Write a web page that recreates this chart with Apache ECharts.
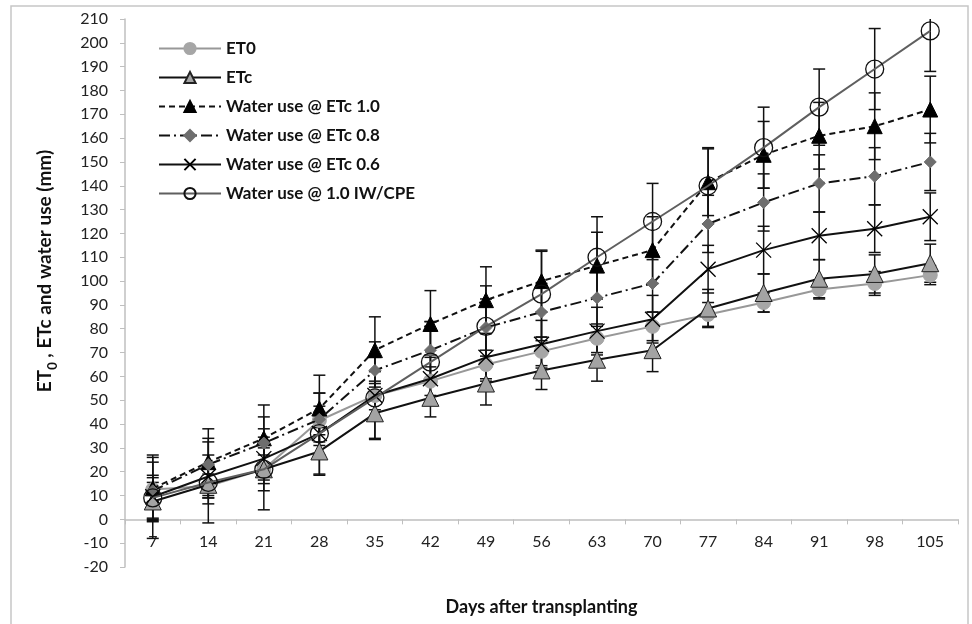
<!DOCTYPE html>
<html>
<head>
<meta charset="utf-8">
<script src="https://cdn.jsdelivr.net/npm/echarts@6/dist/echarts.min.js"></script>
<style>html,body{margin:0;padding:0;background:#fff;}#c{width:972px;height:624px;}</style>
</head>
<body>
<div id="c"></div>
<script>
const days = ['7','14','21','28','35','42','49','56','63','70','77','84','91','98','105'];
const et0      = [12.5, 14, 21, 41.5, 52, 58, 65, 70.5, 76, 81, 86, 91, 96.5, 99, 102.5];
const etc      = [7.5, 14.5, 21, 28.5, 44.5, 51, 57, 62.5, 67, 71, 88.5, 95, 101, 103, 107.5];
const wu10     = [13, 24, 34, 46.5, 71, 82, 92, 100, 106.5, 113, 141.5, 153, 161, 165, 172];
const wu08     = [12, 23, 32, 42, 62.5, 71, 80.5, 87, 93, 99, 124, 133, 141, 144, 150];
const wu06     = [9.5, 18, 25.5, 36, 52, 59, 68, 73.5, 79, 84, 105, 113, 119, 122, 127];
const wuIW     = [9, 15.5, 21, 36, 51, 66, 81, 94.5, 110, 125, 140, 156, 173, 189, 205];
const et0Err   = [5, 5, 6, 6, 6, 6, 6, 6, 6, 6, 5, 4, 4, 5, 4];
const etcErr   = [8, 8, 9, 10, 11, 8, 9, 8, 9, 9, 8, 8, 8, 8, 8];
const wu10Err  = [14, 14, 14, 14, 14, 14, 14, 13, 14, 14, 14, 14, 14, 14, 14];
const wu08Err  = [12, 11, 11, 11, 12, 12, 12, 12, 12, 12, 12, 12, 12, 12, 12];
const wu06Err  = [9, 9, 9, 9, 10, 10, 10, 10, 10, 10, 10, 10, 10, 10, 10];
const wuIWErr  = [17, 17, 17, 17, 17, 17, 17, 18, 17, 16, 16, 17, 16, 17, 17];
const yTicks = {min: -20, max: 210, interval: 10};

const FONT = 'Lato';
const GRID = {left: 125, right: 14, top: 19, bottom: 57};
const H = 624;
const plotH = H - GRID.top - GRID.bottom;
// pixel distance from plot bottom (value = min) up to value 0
const zeroOffset = plotH * (0 - yTicks.min) / (yTicks.max - yTicks.min);

const chart = echarts.init(document.getElementById('c'));

function errData(vals, errs) {
  return vals.map((v, i) => [i, v - errs[i], v + errs[i]]);
}
function errSeries(vals, errs) {
  return {
    type: 'custom',
    data: errData(vals, errs),
    z: 1,
    clip: true,
    silent: true,
    renderItem: function (params, api) {
      const i = api.value(0);
      const lo = Math.max(api.value(1), yTicks.min);
      const hi = Math.min(api.value(2), yTicks.max);
      const p1 = api.coord([i, lo]);
      const p2 = api.coord([i, hi]);
      const w = 6;
      const st = {stroke: '#111', lineWidth: 1.5};
      const children = [{type: 'line', shape: {x1: p1[0], y1: p1[1], x2: p2[0], y2: p2[1]}, style: st}];
      if (api.value(1) >= yTicks.min) children.push({type: 'line', shape: {x1: p1[0]-w, y1: p1[1], x2: p1[0]+w, y2: p1[1]}, style: st});
      if (api.value(2) <= yTicks.max) children.push({type: 'line', shape: {x1: p2[0]-w, y1: p2[1], x2: p2[0]+w, y2: p2[1]}, style: st});
      return {type: 'group', children: children};
    }
  };
}

const names = ['ET0', 'ETc', 'Water use @ ETc 1.0', 'Water use @ ETc 0.8', 'Water use @ ETc 0.6', 'Water use @ 1.0 IW/CPE'];

const option = {
  animation: false,
  backgroundColor: '#fff',
  grid: {left: GRID.left, right: GRID.right, top: GRID.top, bottom: GRID.bottom, containLabel: false, outerBoundsMode: 'none'},
  legend: {
    data: names,
    orient: 'vertical',
    left: 153, top: 35,
    itemWidth: 62, itemHeight: 14, itemGap: 12,
    textStyle: {fontFamily: FONT, fontWeight: 'bold', fontSize: 17, color: '#111'}
  },
  xAxis: {
    type: 'category',
    data: days,
    boundaryGap: true,
    offset: -zeroOffset,
    axisLine: {onZero: false, lineStyle: {color: '#bfbfbf', width: 1.5}},
    axisTick: {show: true, length: 5, alignWithLabel: false, lineStyle: {color: '#bfbfbf'}},
    axisLabel: {fontFamily: FONT, fontSize: 16, color: '#222', margin: 14},
    splitLine: {show: false},
    name: 'Days after transplanting',
    nameLocation: 'middle',
    nameGap: 79,
    nameTextStyle: {fontFamily: FONT, fontWeight: 'bold', fontSize: 18, color: '#111'}
  },
  yAxis: {
    type: 'value',
    min: yTicks.min, max: yTicks.max, interval: yTicks.interval,
    axisLine: {show: true, lineStyle: {color: '#bfbfbf', width: 1.5}},
    axisTick: {show: true, length: 5, lineStyle: {color: '#bfbfbf'}},
    axisLabel: {fontFamily: FONT, fontSize: 16, color: '#222', margin: 17},
    splitLine: {show: false}
  },
  graphic: [{
    type: 'rect', silent: true, z: -1,
    shape: {x: 11, y: 6, width: 957, height: 640},
    style: {fill: 'none', stroke: '#c6c6c6', lineWidth: 1.5}
  }, {
    type: 'text', silent: true,
    x: 42, y: 271, rotation: Math.PI / 2,
    style: {
      text: '{a|ET}{b|0}{a| , ETc and water use (mm)}',
      x: 0, y: 0, align: 'center', verticalAlign: 'middle',
      rich: {
        a: {fontFamily: FONT, fontWeight: 'bold', fontSize: 19, fill: '#111', lineHeight: 24, verticalAlign: 'bottom'},
        b: {fontFamily: FONT, fontWeight: 'bold', fontSize: 13, fill: '#111', lineHeight: 24, verticalAlign: 'bottom', padding: [0, 0, -5, 0]}
      }
    }
  }],
  series: [
    errSeries(et0, et0Err), errSeries(etc, etcErr), errSeries(wu10, wu10Err),
    errSeries(wu08, wu08Err), errSeries(wu06, wu06Err), errSeries(wuIW, wuIWErr),
    {
      name: names[0], type: 'line', data: et0, z: 3,
      symbol: 'circle', symbolSize: 14,
      lineStyle: {color: '#989898', width: 2},
      itemStyle: {color: '#a6a6a6', borderColor: '#a6a6a6', borderWidth: 1}
    },
    {
      name: names[1], type: 'line', data: etc, z: 4,
      symbol: 'triangle', symbolSize: 17,
      lineStyle: {color: '#111', width: 2},
      itemStyle: {color: '#a3a3a3', borderColor: '#222', borderWidth: 1}
    },
    {
      name: names[2], type: 'line', data: wu10, z: 5,
      symbol: 'triangle', symbolSize: 15,
      lineStyle: {color: '#111', width: 2, type: [6, 4]},
      itemStyle: {color: '#000', borderColor: '#000', borderWidth: 1}
    },
    {
      name: names[3], type: 'line', data: wu08, z: 6,
      symbol: 'diamond', symbolSize: 12,
      lineStyle: {color: '#111', width: 2, type: [11, 4, 2, 4]},
      itemStyle: {color: '#6e6e6e', borderColor: '#6e6e6e', borderWidth: 1}
    },
    {
      name: names[4], type: 'line', data: wu06, z: 7,
      symbol: 'path://M0,0L20,20M20,0L0,20', symbolSize: 15,
      lineStyle: {color: '#111', width: 2},
      itemStyle: {color: '#000', borderColor: '#000', borderWidth: 1.3}
    },
    {
      name: names[5], type: 'line', data: wuIW, z: 8,
      symbol: 'circle', symbolSize: 18,
      lineStyle: {color: '#5f5f5f', width: 2},
      itemStyle: {color: 'rgba(255,255,255,0)', borderColor: '#111', borderWidth: 1.3}
    }
  ]
};
chart.setOption(option);
</script>
</body>
</html>
